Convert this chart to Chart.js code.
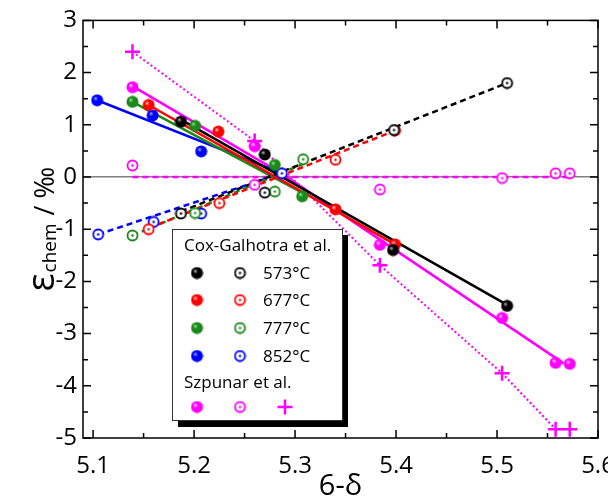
<!DOCTYPE html>
<html>
<head>
<meta charset="utf-8">
<script src="https://cdn.jsdelivr.net/npm/chart.js@4.4.1/dist/chart.umd.min.js"></script>
<style>html,body{margin:0;padding:0;background:#fff}</style>
</head>
<body>
<canvas id="myChart" width="608" height="504"></canvas>
<script>
  // axis ticks
  const xTicks = [5.1, 5.2, 5.3, 5.4, 5.5, 5.6];
  const xMinorTicks = [5.15, 5.25, 5.35, 5.45, 5.55];
  const yTicks = [3, 2, 1, 0, -1, -2, -3, -4, -5];
  const yMinorTicks = [2.5, 1.5, 0.5, -0.5, -1.5, -2.5, -3.5, -4.5];

  // Cox-Galhotra et al. (filled = one set, open = other set)
  const temps = ['573°C', '677°C', '777°C', '852°C'];
  const colors = ['#000000', '#ff0000', '#1a8a1a', '#0000ff'];

  const x573 = [5.187, 5.270, 5.397, 5.510];
  const y573 = [1.06, 0.43, -1.40, -2.47];
  const x573o = [5.187, 5.270, 5.398, 5.510];
  const y573o = [-0.70, -0.30, 0.90, 1.80];
  const x677 = [5.155, 5.224, 5.340, 5.399];
  const y677 = [1.38, 0.87, -0.62, -1.29];
  const x677o = [5.155, 5.225, 5.340, 5.399];
  const y677o = [-1.00, -0.50, 0.33, 0.89];
  const x777 = [5.139, 5.201, 5.280, 5.307];
  const y777 = [1.44, 0.98, 0.23, -0.37];
  const x777o = [5.139, 5.201, 5.280, 5.308];
  const y777o = [-1.12, -0.69, -0.28, 0.34];
  const x852 = [5.104, 5.159, 5.207];
  const y852 = [1.47, 1.18, 0.49];
  const x852o = [5.105, 5.160, 5.207, 5.287];
  const y852o = [-1.10, -0.86, -0.70, 0.07];

  // Szpunar et al.
  const xSz = [5.139, 5.260, 5.384, 5.505, 5.558, 5.572];
  const ySzFilled = [1.72, 0.59, -1.30, -2.70, -3.56, -3.58];
  const ySzOpen = [0.22, -0.15, -0.24, -0.02, 0.07, 0.07];
  const ySzPlus = [2.40, 0.69, -1.69, -3.76, -4.83, -4.83];

  // fitted lines (end points)
  const fit573X = [5.187, 5.510], fit573Y = [1.10, -2.45];
  const fit573oX = [5.187, 5.510], fit573oY = [-0.66, 1.80];
  const fit677X = [5.155, 5.399], fit677Y = [1.38, -1.29];
  const fit677oX = [5.155, 5.399], fit677oY = [-0.98, 0.89];
  const fit777X = [5.139, 5.307], fit777Y = [1.44, -0.30];
  const fit777oX = [5.139, 5.308], fit777oY = [-1.12, 0.25];
  const fit852X = [5.104, 5.287], fit852Y = [1.47, 0.07];
  const fit852oX = [5.105, 5.287], fit852oY = [-1.10, 0.07];
  const fitSzX = [5.139, 5.288, 5.566], fitSzY = [1.74, 0.05, -3.57];
  const fitSzoX = [5.139, 5.572], fitSzoY = [0.0, 0.0];

  const FONT = "'Open Sans', sans-serif";
  const MAGENTA = '#ff00ff';

  const pts = (xs, ys) => xs.map((x, i) => ({ x: x, y: ys[i] }));

  function sphere(color, hi) {
    const c = document.createElement('canvas');
    c.width = 13; c.height = 13;
    const g = c.getContext('2d');
    const grad = g.createRadialGradient(4.5, 4.3, 0.3, 6.5, 6.5, 6.3);
    grad.addColorStop(0, hi);
    grad.addColorStop(0.35, color);
    grad.addColorStop(1, color);
    g.fillStyle = grad;
    g.beginPath(); g.arc(6.5, 6.5, 6, 0, Math.PI * 2); g.fill();
    return c;
  }

  function ring(color) {
    const c = document.createElement('canvas');
    c.width = 13; c.height = 13;
    const g = c.getContext('2d');
    g.fillStyle = '#fff';
    g.strokeStyle = color;
    g.lineWidth = 1.8;
    g.beginPath(); g.arc(6.5, 6.5, 5, 0, Math.PI * 2); g.fill(); g.stroke();
    g.fillStyle = color;
    g.beginPath(); g.arc(6.5, 6.5, 1.2, 0, Math.PI * 2); g.fill();
    return c;
  }

  const hiColors = ['#b0b0b0', '#ffc0c0', '#a0e0a0', '#a0a0ff'];
  const filledImg = colors.map((c, i) => sphere(c, hiColors[i]));
  const openImg = colors.map(c => ring(c));
  const szFilledImg = sphere(MAGENTA, '#ffd0ff');
  const szOpenImg = ring(MAGENTA);

  function pointSet(data, img) {
    return { data: data, pointStyle: img, pointRadius: 6, showLine: false, order: 0 };
  }
  function lineSet(data, color, dash, width) {
    return { data: data, showLine: true, pointRadius: 0, borderColor: color,
      borderWidth: width || 2.5, borderDash: dash || [], fill: false, order: 1 };
  }

  const datasets = [
    lineSet(pts(fit573X, fit573Y), colors[0]),
    lineSet(pts(fit573oX, fit573oY), colors[0], [6, 4]),
    lineSet(pts(fit677X, fit677Y), colors[1]),
    lineSet(pts(fit677oX, fit677oY), colors[1], [6, 4]),
    lineSet(pts(fit777X, fit777Y), colors[2]),
    lineSet(pts(fit777oX, fit777oY), colors[2], [6, 4]),
    lineSet(pts(fit852X, fit852Y), colors[3]),
    lineSet(pts(fit852oX, fit852oY), colors[3], [6, 4]),
    lineSet(pts(fitSzX, fitSzY), MAGENTA),
    lineSet(pts(fitSzoX, fitSzoY), MAGENTA, [6, 4]),
    lineSet(pts(xSz, ySzPlus), MAGENTA, [2, 2.5], 2),

    pointSet(pts(x573, y573), filledImg[0]),
    pointSet(pts(x573o, y573o), openImg[0]),
    pointSet(pts(x677, y677), filledImg[1]),
    pointSet(pts(x677o, y677o), openImg[1]),
    pointSet(pts(x777, y777), filledImg[2]),
    pointSet(pts(x777o, y777o), openImg[2]),
    pointSet(pts(x852, y852), filledImg[3]),
    pointSet(pts(x852o, y852o), openImg[3]),
    pointSet(pts(xSz, ySzFilled), szFilledImg),
    pointSet(pts(xSz, ySzOpen), szOpenImg),
    { data: pts(xSz, ySzPlus), pointStyle: 'cross', pointRadius: 7.5, borderWidth: 2.5,
      borderColor: MAGENTA, showLine: false, order: 0 }
  ];

  // frame with inward ticks on all four sides
  const frame = {
    id: 'frame',
    afterDatasetsDraw(chart) {
      const { ctx, chartArea: a, scales: { x, y } } = chart;
      ctx.save();
      ctx.strokeStyle = '#000';
      ctx.lineWidth = 1.5;
      ctx.beginPath();
      const tx = (vals, len) => vals.forEach(v => {
        const px = x.getPixelForValue(v);
        ctx.moveTo(px, a.bottom); ctx.lineTo(px, a.bottom - len);
        ctx.moveTo(px, a.top); ctx.lineTo(px, a.top + len);
      });
      const ty = (vals, len) => vals.forEach(v => {
        const py = y.getPixelForValue(v);
        ctx.moveTo(a.left, py); ctx.lineTo(a.left + len, py);
        ctx.moveTo(a.right, py); ctx.lineTo(a.right - len, py);
      });
      tx(xTicks, 8); tx(xMinorTicks, 5);
      ty(yTicks, 8); ty(yMinorTicks, 5);
      ctx.stroke();
      ctx.strokeRect(a.left, a.top, a.right - a.left, a.bottom - a.top);
      ctx.restore();
    },
    afterDraw(chart) {
      const { ctx, chartArea: a } = chart;
      ctx.save();
      // y title: ε_chem / ‰
      ctx.fillStyle = '#000';
      ctx.textBaseline = 'alphabetic';
      const f1 = '38px ' + FONT, f2 = '19px ' + FONT, f3 = '27px ' + FONT;
      ctx.font = f1; const w1 = ctx.measureText('ε').width;
      ctx.font = f2; const w2 = ctx.measureText('chem').width;
      ctx.font = f3; const w3 = ctx.measureText(' / ‰').width;
      const total = w1 + w2 + w3 + 2;
      ctx.translate(54, (a.top + a.bottom) / 2 + total / 2);
      ctx.rotate(-Math.PI / 2);
      ctx.font = f1; ctx.fillText('ε', 0, 0);
      ctx.font = f2; ctx.fillText('chem', w1 + 1, 2);
      ctx.font = f3; ctx.fillText(' / ‰', w1 + w2 + 2, 0);
      ctx.restore();

      // legend
      ctx.save();
      ctx.fillStyle = '#000';
      ctx.fillRect(178, 235, 170, 192);
      ctx.fillStyle = '#fff';
      ctx.fillRect(172, 229, 170, 191);
      ctx.strokeStyle = '#333';
      ctx.lineWidth = 1;
      ctx.strokeRect(172.5, 229.5, 170, 191);
      ctx.fillStyle = '#000';
      ctx.font = '17px ' + FONT;
      ctx.textBaseline = 'middle';
      ctx.fillText('Cox-Galhotra et al.', 184, 246);
      const rows = [273, 300, 328, 356];
      temps.forEach((t, i) => {
        ctx.drawImage(filledImg[i], 197 - 6.5, rows[i] - 6.5);
        ctx.drawImage(openImg[i], 240 - 6.5, rows[i] - 6.5);
        ctx.fillStyle = '#000';
        ctx.fillText(t, 263, rows[i] + 1);
      });
      ctx.fillText('Szpunar et al.', 184, 383);
      ctx.drawImage(szFilledImg, 197 - 6.5, 407 - 6.5);
      ctx.drawImage(szOpenImg, 240 - 6.5, 407 - 6.5);
      ctx.strokeStyle = MAGENTA;
      ctx.lineWidth = 2.5;
      ctx.beginPath();
      ctx.moveTo(277.5, 407); ctx.lineTo(292.5, 407);
      ctx.moveTo(285, 399.5); ctx.lineTo(285, 414.5);
      ctx.stroke();
      ctx.restore();
    }
  };

  const ctx = document.getElementById('myChart').getContext('2d');
  new Chart(ctx, {
    type: 'scatter',
    data: { datasets: datasets },
    options: {
      responsive: false,
      animation: false,
      events: [],
      layout: { padding: { left: 0, top: 18, right: 3, bottom: 0 } },
      plugins: { legend: { display: false }, tooltip: { enabled: false } },
      scales: {
        x: {
          min: 5.09, max: 5.6,
          afterBuildTicks: s => { s.ticks = xTicks.map(v => ({ value: v })); },
          afterFit: s => { s.height = 66; s.paddingLeft = 0; s.paddingRight = 0; },
          grid: { display: false },
          border: { display: false },
          ticks: { font: { family: FONT, size: 24 }, color: '#000', padding: 6,
            maxRotation: 0, autoSkip: false, callback: v => v.toFixed(1) },
          title: { display: true, text: '6-δ', color: '#000',
            font: { family: FONT, size: 29 }, padding: { top: 0, bottom: 0 } }
        },
        y: {
          min: -5, max: 3,
          afterBuildTicks: s => { s.ticks = yTicks.map(v => ({ value: v })); },
          afterFit: s => { s.width = 83; },
          grid: { drawTicks: false, lineWidth: 1.5,
            color: c => (c.tick && c.tick.value === 0) ? '#808080' : 'rgba(0,0,0,0)' },
          border: { display: false },
          ticks: { font: { family: FONT, size: 24 }, color: '#000', padding: 6,
            autoSkip: false, callback: v => String(v) }
        }
      }
    },
    plugins: [frame]
  });
</script>
</body>
</html>
